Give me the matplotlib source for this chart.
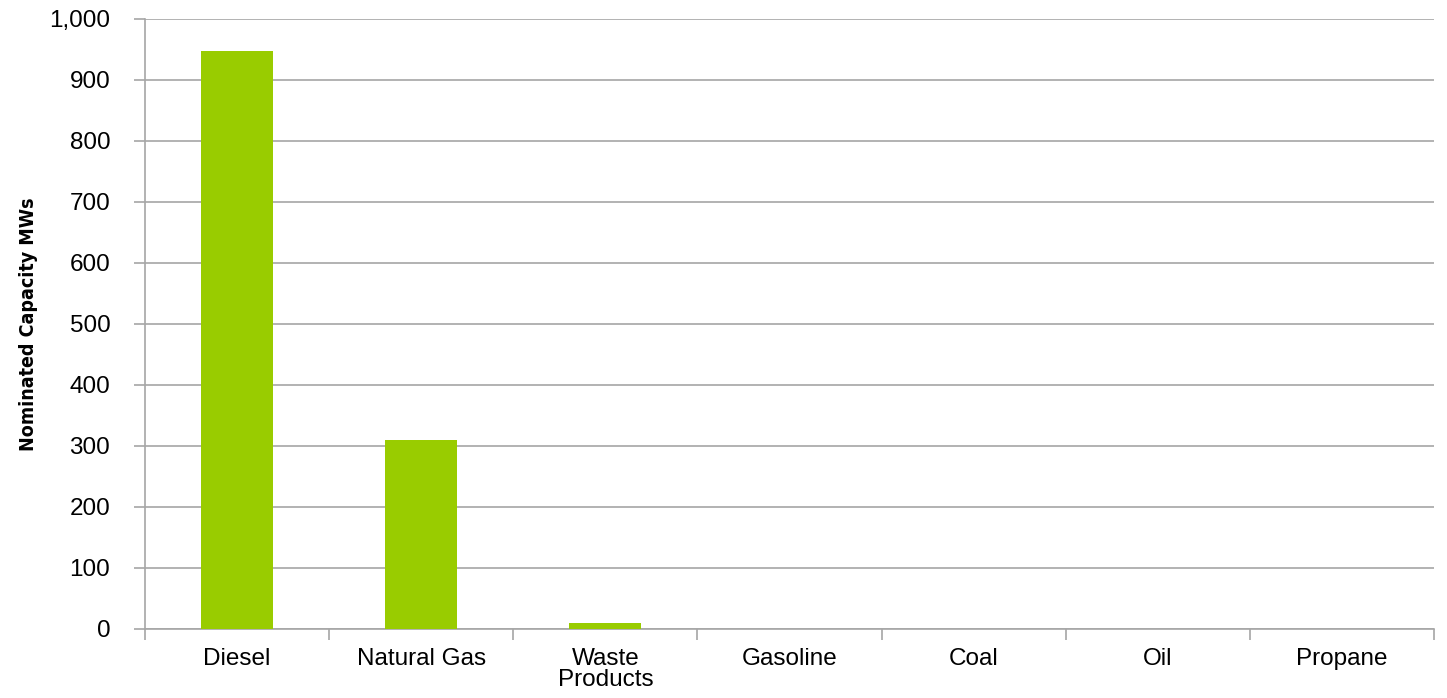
#!/usr/bin/env python3
"""Nominated capacity by fuel type, bar chart."""

import matplotlib
matplotlib.use("Agg")
import matplotlib.pyplot as plt
from matplotlib.ticker import FuncFormatter

fuels = ["Diesel", "Natural Gas", "Waste\nProducts", "Gasoline", "Coal", "Oil", "Propane"]
capacity_mw = [947, 310, 9, 0, 0, 0, 0]

BAR_COLOR = "#99CC00"
GRID_COLOR = "#A6A6A6"

plt.rcParams["font.family"] = ["Liberation Sans", "DejaVu Sans"]

fig = plt.figure(figsize=(14.47, 6.98), dpi=100)
ax = fig.add_axes([0.1002, 0.0989, 0.8908, 0.8739])

x = list(range(len(fuels)))
ax.bar(x, capacity_mw, width=0.39, color=BAR_COLOR, zorder=3)

ax.set_xlim(-0.5, len(fuels) - 0.5)
ax.set_ylim(0, 1000)
ax.set_yticks(range(0, 1001, 100))
ax.yaxis.set_major_formatter(FuncFormatter(lambda v, _: f"{int(v):,}"))
ax.grid(axis="y", color=GRID_COLOR, linewidth=1.2, zorder=0)

ax.set_xticks([i + 0.5 for i in x[:-1]] + [-0.5, len(fuels) - 0.5])
ax.set_xticklabels([])
ax.set_xticks(x, minor=True)
ax.set_xticklabels(fuels, minor=True, fontsize=17.5, color="black")
ax.tick_params(axis="x", which="minor", length=0, pad=14)
ax.tick_params(axis="x", which="major", length=8, color=GRID_COLOR, width=1.2)
ax.tick_params(axis="y", length=8, color=GRID_COLOR, width=1.2, labelsize=17.5, pad=17)
for lbl in ax.get_xticklabels(minor=True):
    lbl.set_linespacing(0.92)

for side in ["top", "right"]:
    ax.spines[side].set_visible(False)
for side in ["left", "bottom"]:
    ax.spines[side].set_color(GRID_COLOR)
    ax.spines[side].set_linewidth(1.2)

ax.set_ylabel("Nominated Capacity MWs", fontsize=14, fontweight="bold",
              family=["DejaVu Sans"], fontstretch="condensed")
ax.yaxis.set_label_coords(-0.1002 + 22 / 1289, 0.5)

fig.savefig("out.png", dpi=100)
